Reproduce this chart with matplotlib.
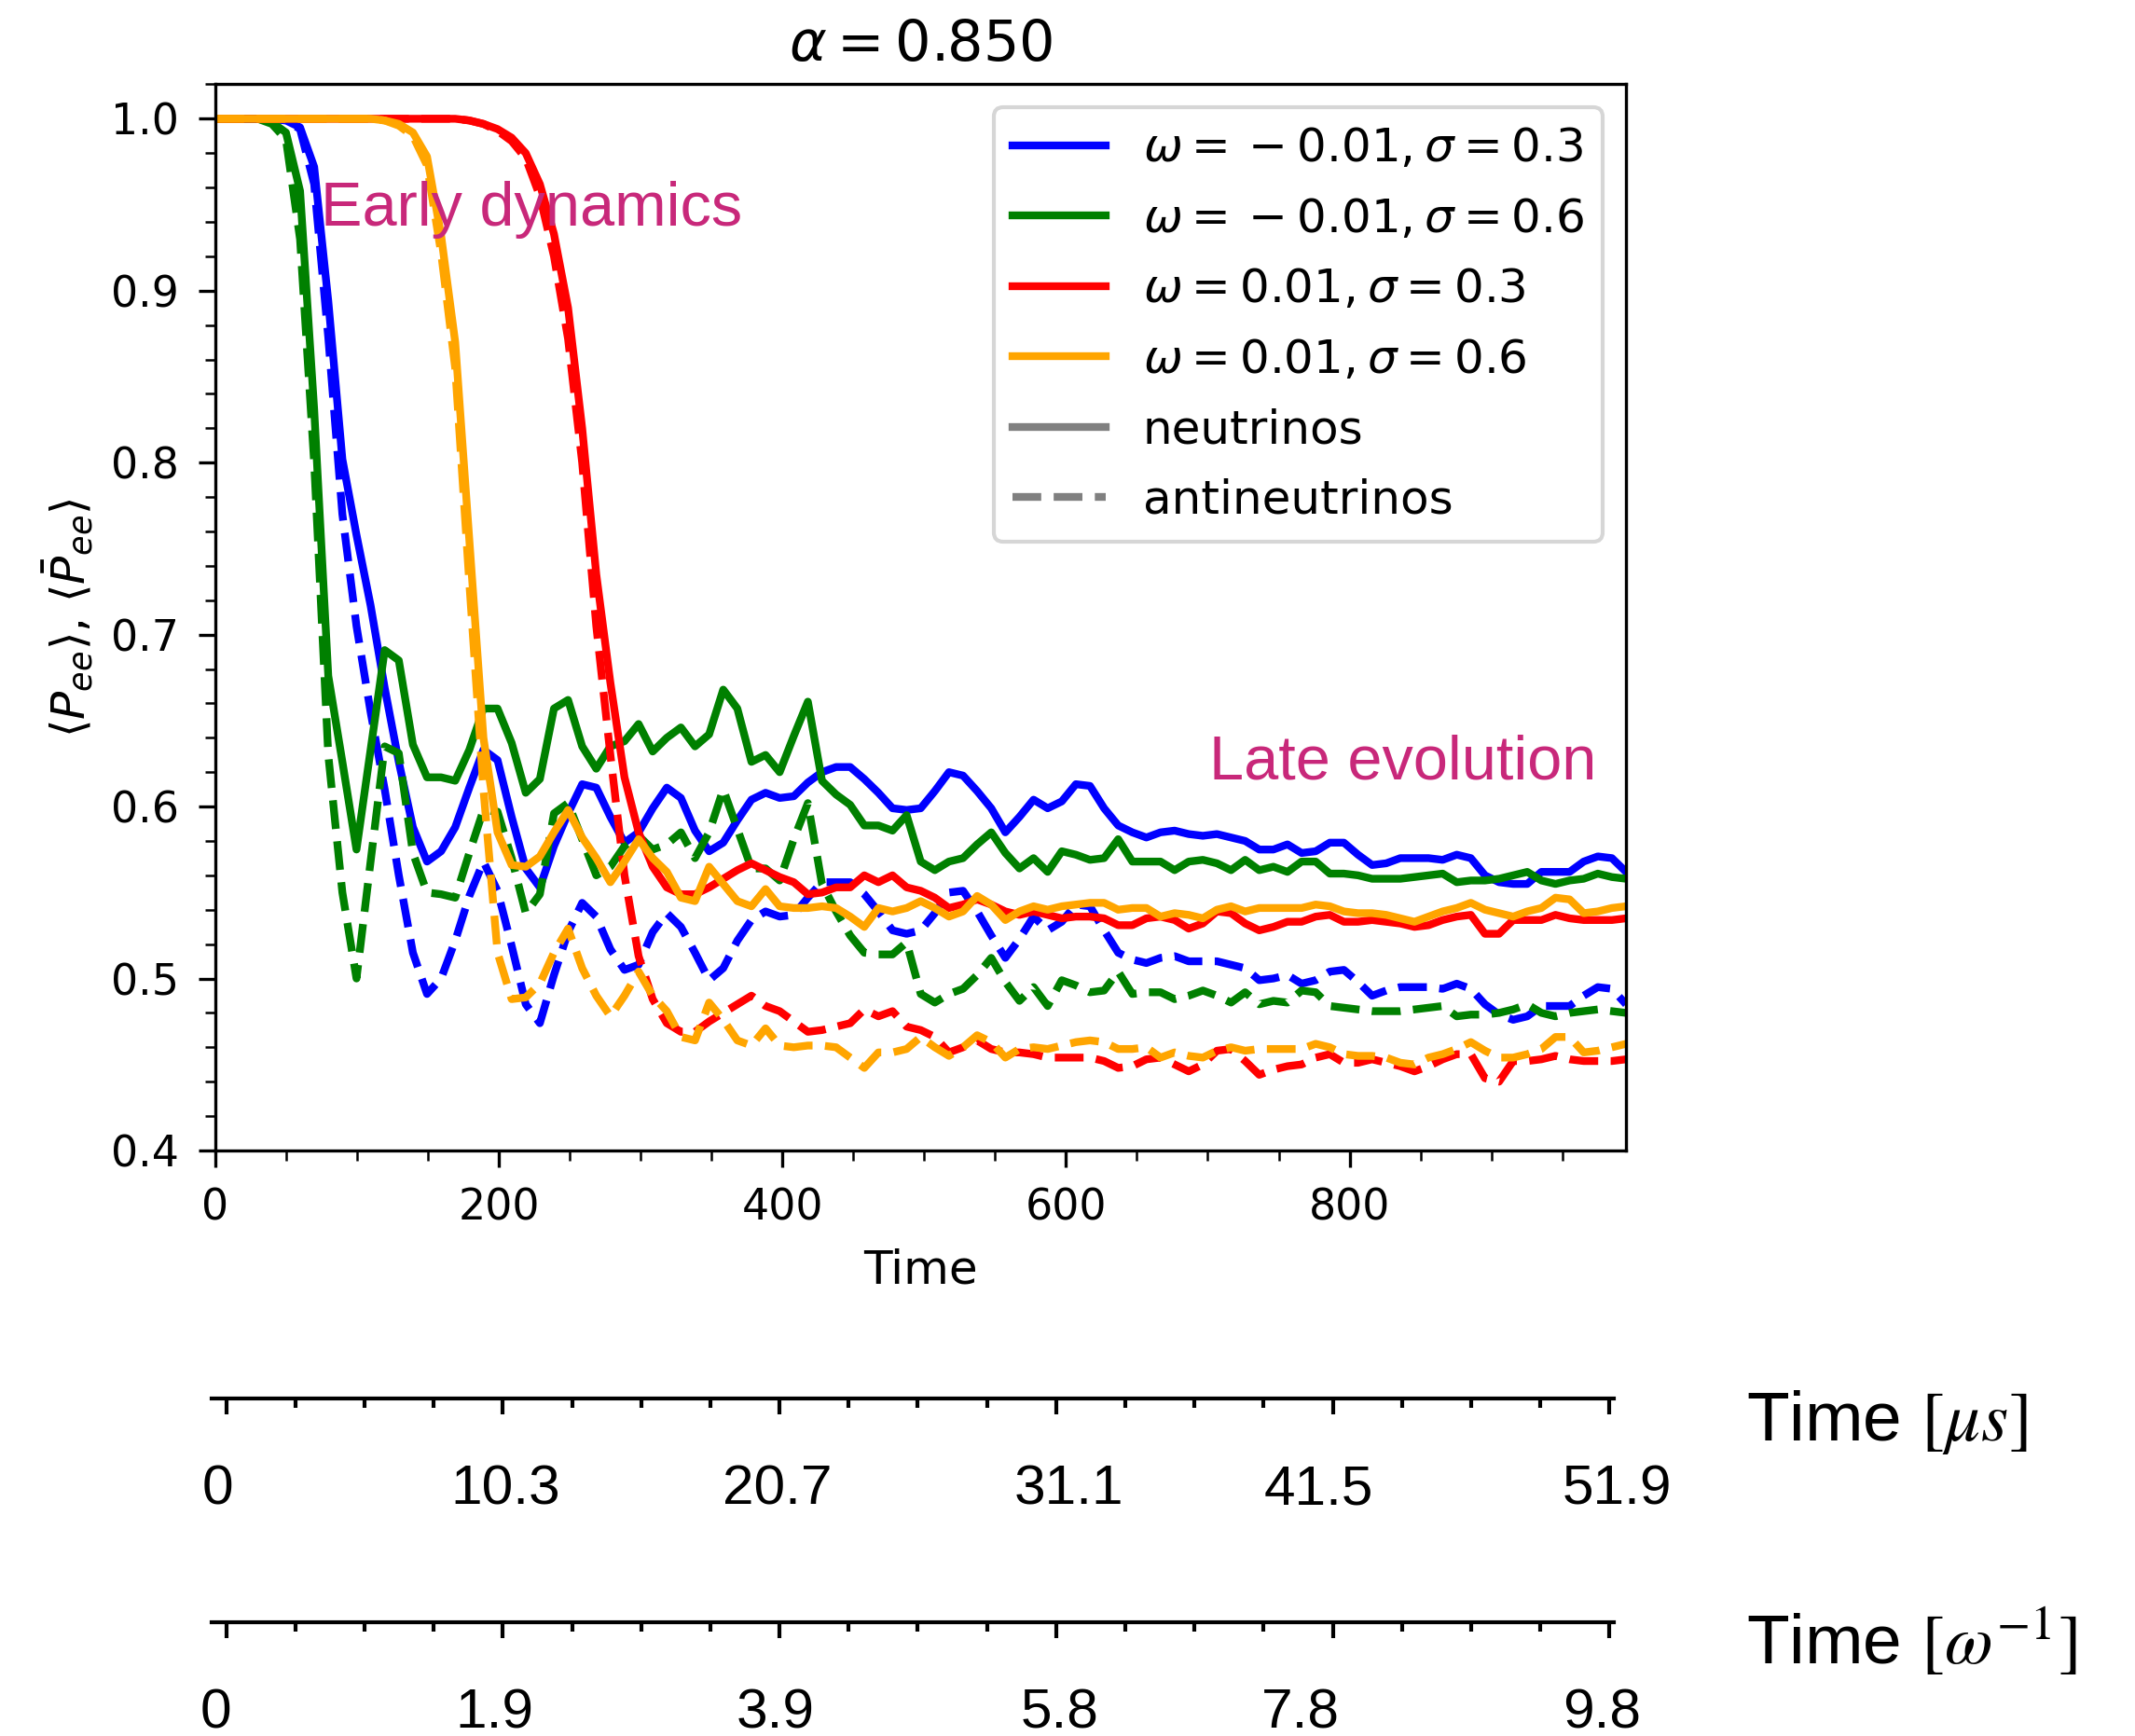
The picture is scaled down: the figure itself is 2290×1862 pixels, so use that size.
import numpy as np
import matplotlib
matplotlib.use('Agg')
import matplotlib.pyplot as plt
from matplotlib.lines import Line2D
from matplotlib.ticker import MultipleLocator
from matplotlib.transforms import blended_transform_factory

# time grid (code units), 101 samples across the window
time = np.linspace(0, 995, 101)

# omega = -0.01, sigma = 0.3
blue_nu = ([1.0] * 5 + [0.999, 0.995, 0.972, 0.894, 0.802,
           0.758, 0.717, 0.669, 0.626, 0.588, 0.568, 0.574, 0.588, 0.611, 0.633,
           0.627, 0.594, 0.564, 0.553, 0.577, 0.596, 0.613, 0.611, 0.594, 0.579,
           0.585, 0.599, 0.611, 0.605, 0.586, 0.574, 0.579, 0.592, 0.604, 0.608,
           0.605, 0.606, 0.614, 0.620, 0.623, 0.623, 0.616, 0.608, 0.599, 0.598,
           0.599, 0.609, 0.620, 0.618, 0.609, 0.599, 0.585, 0.594, 0.604, 0.599,
           0.603, 0.613, 0.612, 0.599, 0.589, 0.585, 0.582, 0.585, 0.586, 0.584,
           0.583, 0.584, 0.582, 0.580, 0.575, 0.575, 0.578, 0.573, 0.574, 0.579,
           0.579, 0.572, 0.566, 0.567, 0.570, 0.570, 0.570, 0.569, 0.572, 0.570,
           0.560, 0.556, 0.555, 0.555, 0.562, 0.562, 0.562, 0.568, 0.571, 0.570,
           0.562])
blue_anti = ([1.0] * 5 + [0.999, 0.994, 0.962, 0.873, 0.770,
             0.705, 0.655, 0.610, 0.560, 0.515, 0.491, 0.500, 0.522, 0.548, 0.568,
             0.551, 0.519, 0.485, 0.474, 0.502, 0.527, 0.544, 0.536, 0.517, 0.505,
             0.508, 0.527, 0.538, 0.530, 0.515, 0.499, 0.506, 0.522, 0.534, 0.539,
             0.536, 0.537, 0.547, 0.556, 0.556, 0.556, 0.549, 0.539, 0.528, 0.526,
             0.528, 0.538, 0.550, 0.551, 0.539, 0.525, 0.512, 0.523, 0.536, 0.528,
             0.533, 0.543, 0.542, 0.528, 0.515, 0.511, 0.509, 0.512, 0.513, 0.510,
             0.510, 0.510, 0.508, 0.506, 0.499, 0.500, 0.502, 0.497, 0.499, 0.504,
             0.505, 0.498, 0.490, 0.493, 0.495, 0.495, 0.495, 0.494, 0.497, 0.494,
             0.485, 0.479, 0.476, 0.478, 0.484, 0.484, 0.484, 0.490, 0.495, 0.494,
             0.485])

# omega = -0.01, sigma = 0.6
green_nu = ([1.0] * 4 + [0.998, 0.992, 0.958, 0.831, 0.676, 0.626,
            0.575, 0.633, 0.691, 0.685, 0.636, 0.617, 0.617, 0.615, 0.633, 0.657,
            0.657, 0.637, 0.608, 0.616, 0.657, 0.662, 0.635, 0.622, 0.635, 0.638,
            0.648, 0.632, 0.640, 0.646, 0.635, 0.642, 0.668, 0.657, 0.626, 0.630,
            0.620, 0.641, 0.661, 0.615, 0.607, 0.601, 0.589, 0.589, 0.586, 0.595,
            0.568, 0.563, 0.568, 0.570, 0.578, 0.585, 0.573, 0.564, 0.570, 0.562,
            0.574, 0.572, 0.569, 0.570, 0.581, 0.568, 0.568, 0.568, 0.563, 0.568,
            0.569, 0.567, 0.563, 0.569, 0.563, 0.565, 0.562, 0.568, 0.568, 0.561,
            0.561, 0.560, 0.558, 0.558, 0.558, 0.559, 0.560, 0.561, 0.556, 0.557,
            0.557, 0.558, 0.560, 0.562, 0.557, 0.555, 0.557, 0.558, 0.561, 0.559,
            0.558])
green_anti = ([1.0] * 4 + [0.997, 0.988, 0.930, 0.800, 0.630, 0.550,
              0.500, 0.568, 0.635, 0.631, 0.573, 0.550, 0.549, 0.547, 0.573, 0.598,
              0.597, 0.570, 0.538, 0.549, 0.596, 0.602, 0.581, 0.560, 0.565, 0.577,
              0.583, 0.575, 0.578, 0.585, 0.570, 0.585, 0.610, 0.587, 0.564, 0.564,
              0.557, 0.581, 0.602, 0.555, 0.539, 0.525, 0.515, 0.514, 0.514, 0.521,
              0.491, 0.486, 0.491, 0.494, 0.502, 0.512, 0.498, 0.487, 0.495, 0.484,
              0.499, 0.496, 0.492, 0.493, 0.504, 0.491, 0.492, 0.492, 0.488, 0.490,
              0.493, 0.490, 0.486, 0.492, 0.485, 0.487, 0.486, 0.493, 0.492, 0.484,
              0.483, 0.482, 0.481, 0.481, 0.481, 0.482, 0.483, 0.484, 0.478, 0.479,
              0.479, 0.480, 0.482, 0.485, 0.480, 0.478, 0.480, 0.481, 0.482, 0.481,
              0.480])

# omega = 0.01, sigma = 0.3
red_nu = ([1.0] * 18 + [0.999, 0.997,
          0.994, 0.989, 0.980, 0.962, 0.933, 0.890, 0.820, 0.735, 0.672, 0.617,
          0.585, 0.565, 0.553, 0.549, 0.549, 0.553, 0.558, 0.563, 0.567, 0.563,
          0.559, 0.556, 0.549, 0.550, 0.553, 0.553, 0.560, 0.556, 0.560, 0.553,
          0.551, 0.547, 0.541, 0.543, 0.546, 0.543, 0.539, 0.537, 0.539, 0.537,
          0.535, 0.536, 0.536, 0.535, 0.531, 0.531, 0.535, 0.536, 0.534, 0.529,
          0.532, 0.539, 0.538, 0.532, 0.528, 0.530, 0.533, 0.533, 0.536, 0.537,
          0.533, 0.533, 0.534, 0.533, 0.532, 0.530, 0.531, 0.534, 0.536, 0.537,
          0.526, 0.526, 0.534, 0.534, 0.534, 0.537, 0.535, 0.534, 0.534, 0.534,
          0.535])
red_anti = ([1.0] * 18 + [0.999, 0.997,
            0.993, 0.987, 0.977, 0.955, 0.920, 0.872, 0.800, 0.705, 0.630, 0.560,
            0.513, 0.488, 0.474, 0.469, 0.469, 0.475, 0.480, 0.485, 0.490, 0.484,
            0.481, 0.475, 0.469, 0.470, 0.472, 0.474, 0.482, 0.478, 0.481, 0.472,
            0.470, 0.466, 0.457, 0.460, 0.464, 0.459, 0.457, 0.457, 0.456, 0.454,
            0.454, 0.454, 0.454, 0.452, 0.448, 0.449, 0.453, 0.454, 0.450, 0.446,
            0.450, 0.458, 0.459, 0.452, 0.444, 0.447, 0.449, 0.450, 0.454, 0.456,
            0.451, 0.451, 0.453, 0.451, 0.449, 0.446, 0.449, 0.453, 0.456, 0.456,
            0.442, 0.440, 0.452, 0.452, 0.453, 0.455, 0.453, 0.452, 0.452, 0.452,
            0.453])

# omega = 0.01, sigma = 0.6
orange_nu = ([1.0] * 12 + [0.999, 0.997, 0.992, 0.978, 0.932, 0.870, 0.755, 0.640,
             0.585, 0.566, 0.565, 0.571, 0.585, 0.598, 0.582, 0.570, 0.556, 0.568,
             0.581, 0.570, 0.562, 0.547, 0.545, 0.565, 0.555, 0.545, 0.542, 0.552,
             0.542, 0.541, 0.541, 0.542, 0.541, 0.536, 0.530, 0.541, 0.539, 0.541,
             0.545, 0.541, 0.536, 0.539, 0.548, 0.543, 0.534, 0.539, 0.542, 0.540,
             0.542, 0.543, 0.544, 0.544, 0.540, 0.541, 0.541, 0.536, 0.538, 0.537,
             0.535, 0.540, 0.542, 0.539, 0.541, 0.541, 0.541, 0.541, 0.543, 0.542,
             0.539, 0.538, 0.538, 0.537, 0.535, 0.533, 0.536, 0.539, 0.541, 0.544,
             0.540, 0.538, 0.536, 0.539, 0.541, 0.547, 0.546, 0.538, 0.539, 0.541,
             0.542])
orange_anti = ([1.0] * 12 + [0.999, 0.996, 0.990, 0.973, 0.922, 0.855, 0.730, 0.610,
               0.515, 0.488, 0.489, 0.497, 0.515, 0.529, 0.506, 0.490, 0.478, 0.490,
               0.504, 0.490, 0.481, 0.466, 0.464, 0.486, 0.476, 0.464, 0.461, 0.471,
               0.461, 0.460, 0.461, 0.461, 0.460, 0.454, 0.448, 0.457, 0.457, 0.459,
               0.466, 0.460, 0.455, 0.460, 0.467, 0.463, 0.454, 0.459, 0.460, 0.459,
               0.461, 0.463, 0.464, 0.463, 0.459, 0.459, 0.460, 0.454, 0.457, 0.455,
               0.454, 0.458, 0.460, 0.458, 0.459, 0.459, 0.459, 0.459, 0.462, 0.460,
               0.456, 0.455, 0.455, 0.454, 0.451, 0.450, 0.454, 0.456, 0.459, 0.463,
               0.458, 0.454, 0.454, 0.456, 0.459, 0.466, 0.466, 0.457, 0.458, 0.460,
               0.462])

# the "{}" keeps mathtext spacing the minus as an operator, as in the original
labels = [r'$\omega = {}-0.01, \sigma = 0.3$', r'$\omega = {}-0.01, \sigma = 0.6$',
          r'$\omega = 0.01, \sigma = 0.3$', r'$\omega = 0.01, \sigma = 0.6$']
colors = ['blue', 'green', 'red', 'orange']
nu_curves = [blue_nu, green_nu, red_nu, orange_nu]
anti_curves = [blue_anti, green_anti, red_anti, orange_anti]

# secondary time scales shown under the plot
scale_ticks = [0, 0.2, 0.4, 0.6, 0.8, 1.0]
us_labels = ['0', '10.3', '20.7', '31.1', '41.5', '51.9']
w_labels = ['0', '1.9', '3.9', '5.8', '7.8', '9.8']
# where the labels sit along each bar (they are not exactly under the ticks)
us_label_pos = [-0.0065, 0.2017, 0.3986, 0.6089, 0.7896, 1.0052]
w_label_pos = [-0.0079, 0.1936, 0.3972, 0.6028, 0.7767, 0.9946]

note_color = '#C8287A'

fig = plt.figure(figsize=(2290 / 300, 1862 / 300), dpi=300)
ax = fig.add_axes([0.1009, 0.3373, 0.6607, 0.6141])

for nu, anti, c in zip(nu_curves, anti_curves, colors):
    ax.plot(time, nu, color=c, lw=2)
    ax.plot(time, anti, color=c, lw=2, ls='--')

ax.set_xlim(0, 995)
ax.set_ylim(0.4, 1.02)
ax.xaxis.set_major_locator(MultipleLocator(200))
ax.xaxis.set_minor_locator(MultipleLocator(50))
ax.yaxis.set_major_locator(MultipleLocator(0.1))
ax.yaxis.set_minor_locator(MultipleLocator(0.02))
ax.tick_params(which='major', length=4.4, labelsize=11, pad=5)
ax.tick_params(which='minor', length=2.6)

ax.set_xlabel('Time', fontsize=12, labelpad=5)
ax.set_ylabel(r'$\langle P_{ee} \rangle$, $\langle \bar{P}_{ee} \rangle$', fontsize=12)
ax.set_title(r'$\alpha = 0.850$', fontsize=14.5)

handles = [Line2D([], [], color=c, lw=2, label=l) for c, l in zip(colors, labels)]
handles.append(Line2D([], [], color='gray', lw=2, label='neutrinos'))
handles.append(Line2D([], [], color='gray', lw=2, ls='--', label='antineutrinos'))
ax.legend(handles=handles, loc='upper right', fontsize=12, labelspacing=0.55)

ax.text(74, 0.938, 'Early dynamics', color=note_color, fontsize=16,
        fontname='Liberation Sans')
ax.text(974, 0.616, 'Late evolution', color=note_color, fontsize=16,
        fontname='Liberation Sans', ha='right')

# lower scale bars
bars = [(0.1944, us_labels, us_label_pos, 0.1337, r'Time $[\mu s]$', 0.17025),
        (0.0655, w_labels, w_label_pos, 0.0043, r'Time $[\omega^{-1}]$', 0.04135)]
for bottom, tick_labels, label_pos, label_y, name, name_y in bars:
    lax = fig.add_axes([0.0991, bottom, 0.6568, 0.02])
    lax.patch.set_visible(False)
    for s in ['top', 'left', 'right']:
        lax.spines[s].set_visible(False)
    lax.spines['bottom'].set_linewidth(1.0)
    lax.set_yticks([])
    lax.set_xlim(-0.0106, 1.0032)
    lax.set_xticks(scale_ticks)
    lax.set_xticklabels([])
    lax.xaxis.set_minor_locator(MultipleLocator(0.05))
    lax.tick_params(which='major', length=4.1, width=1.0)
    lax.tick_params(which='minor', length=2.4, width=1.0)
    trans = blended_transform_factory(lax.transData, fig.transFigure)
    for x, lab in zip(label_pos, tick_labels):
        lax.text(x, label_y, lab, transform=trans, ha='center', va='baseline',
                 fontsize=14.5, fontname='Liberation Sans', clip_on=False)
    fig.text(1873 / 2290, name_y, name, fontsize=18, fontname='Liberation Sans',
             math_fontfamily='stix', va='baseline')

fig.savefig('out.png', dpi=300)
